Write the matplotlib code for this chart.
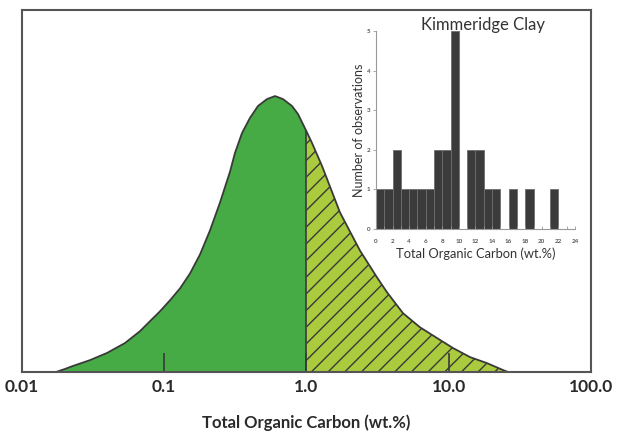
import numpy as np
import matplotlib
matplotlib.use('Agg')
from matplotlib import pyplot as plt

plt.rcParams['font.family'] = ['Lato', 'DejaVu Sans']
plt.rcParams['hatch.linewidth'] = 1.0

# main curve (TOC wt.% vs relative frequency)
toc = [0.01734, 0.02006, 0.02283, 0.03006, 0.03958, 0.05298, 0.06754, 0.07937,
       0.09335, 0.1098, 0.1291, 0.1517, 0.1784, 0.2097, 0.2465, 0.2899, 0.3143,
       0.3521, 0.4007, 0.4560, 0.5277, 0.6006, 0.6837, 0.7910, 0.8714, 1.0,
       1.093, 1.285, 1.720, 2.377, 3.130, 3.68, 4.77, 6.28, 8.27, 10.7, 14.1,
       18.6, 24.1, 26.1]
freq = [0.0, 0.011, 0.022, 0.043, 0.069, 0.105, 0.148, 0.184,
        0.220, 0.260, 0.303, 0.357, 0.426, 0.513, 0.614, 0.726, 0.794,
        0.866, 0.921, 0.964, 0.989, 1.0, 0.989, 0.964, 0.935, 0.872,
        0.830, 0.747, 0.578, 0.440, 0.343, 0.289, 0.213, 0.162, 0.123, 0.087, 0.054,
        0.032, 0.007, 0.0]

main_ticks = [0.01, 0.1, 1.0, 10.0, 100.0]
main_ticklabels = ['0.01', '0.1', '1.0', '10.0', '100.0']

# inset histogram, Kimmeridge Clay, 1 wt.% bins
bin_left = list(range(24))
counts = [1, 1, 2, 1, 1, 1, 1, 2, 2, 5, 0, 2, 2, 1, 1, 0, 1, 0, 1, 0, 0, 1, 0, 0]

dark_green = '#46ab45'
light_green = '#a9cb3d'
outline = '#3a3a3a'


def main():
    fig = plt.figure(figsize=(6.18, 4.32), dpi=100)
    ax = fig.add_axes([0.0356, 0.1389, 0.9207, 0.838])

    x = np.array(toc)
    y = np.array(freq)
    left = x <= 1.0
    right = x >= 1.0
    ax.fill_between(x[left], 0, y[left], facecolor=dark_green, linewidth=0)
    ax.fill_between(x[right], 0, y[right], facecolor=light_green,
                    edgecolor=outline, hatch='//', linewidth=0)
    ax.plot(x, y, color=outline, lw=1.3, solid_joinstyle='round')
    ax.plot([1.0, 1.0], [0, y[x == 1.0][0]], color=outline, lw=1.2)

    ax.set_xscale('log')
    ax.set_xlim(0.01, 100)
    ax.set_ylim(0, 1.312)
    ax.set_yticks([])
    ax.set_xticks(main_ticks)
    ax.set_xticklabels(main_ticklabels)
    ax.minorticks_off()
    ax.tick_params(axis='x', direction='in', length=14, width=1.2,
                   color=outline, pad=5, labelsize=12.5, labelcolor='#2a2a2a')
    for lab in ax.get_xticklabels():
        lab.set_fontweight('bold')
    ax.set_xlabel('Total Organic Carbon (wt.%)', fontsize=12, fontweight='bold',
                  color='#2a2a2a', labelpad=14)
    for s in ax.spines.values():
        s.set_color('#555555')
        s.set_linewidth(1.5)

    # inset
    axi = fig.add_axes([0.6084, 0.4699, 0.322, 0.4583])
    axi.patch.set_alpha(0)
    axi.bar(bin_left, counts, width=1.0, align='edge', color='#3b3b3b',
            edgecolor='#6e6e6e', linewidth=0.6)
    axi.set_xlim(0, 24)
    axi.set_ylim(0, 5)
    axi.set_xticks(range(0, 25, 2))
    axi.set_xticks(range(0, 25), minor=True)
    axi.set_yticks(range(0, 6))
    axi.tick_params(axis='x', which='both', direction='in', length=2,
                    width=0.6, color='#999999', labelsize=4.5, labelcolor='#555555', pad=7)
    axi.tick_params(axis='y', direction='out', length=2,
                    width=0.6, color='#999999', labelsize=4.5, labelcolor='#555555', pad=2)
    for lab in axi.get_xticklabels() + axi.get_yticklabels():
        lab.set_fontweight('bold')
    for s in ['top', 'right']:
        axi.spines[s].set_visible(False)
    for s in ['left', 'bottom']:
        axi.spines[s].set_color('#999999')
        axi.spines[s].set_linewidth(0.8)
    axi.set_xlabel('Total Organic Carbon (wt.%)', fontsize=9.3, color='#333333', labelpad=3)
    axi.set_ylabel('Number of observations', fontsize=9, color='#333333', labelpad=1.5)
    axi.set_title('Kimmeridge Clay', fontsize=12, color='#333333', pad=1, y=1.0, x=0.54)

    fig.savefig('out.png', dpi=100)
    plt.close(fig)


if __name__ == '__main__':
    main()
